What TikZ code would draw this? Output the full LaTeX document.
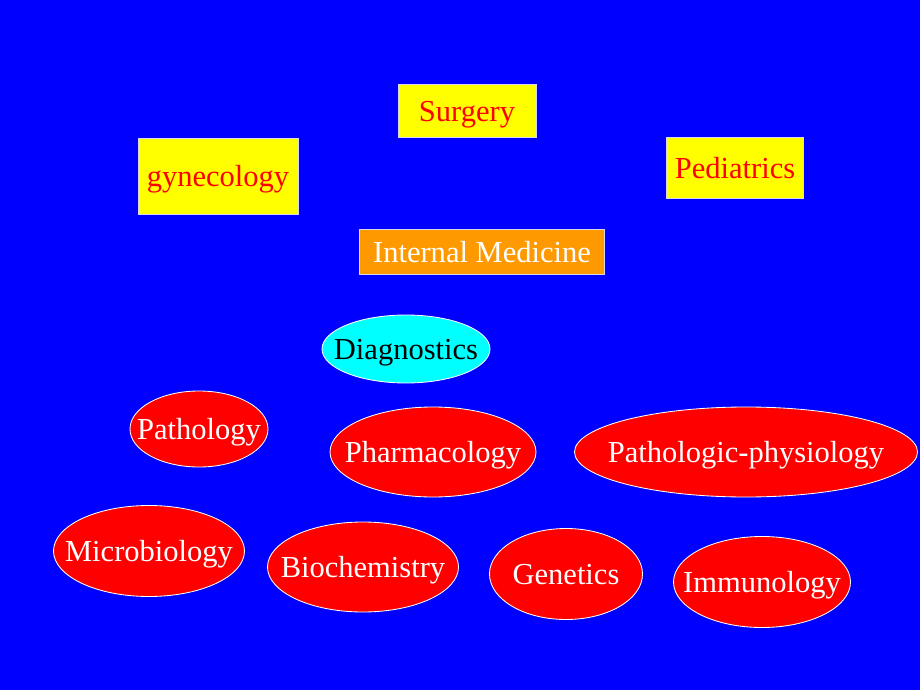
\documentclass[tikz,border=0pt]{standalone}
\usepackage{fontspec}
\setmainfont{Liberation Serif}
\usetikzlibrary{shapes.geometric}

\definecolor{slideblue}{RGB}{0,0,255}
\definecolor{deptyellow}{RGB}{255,255,0}
\definecolor{deptorange}{RGB}{255,153,0}
\definecolor{subjred}{RGB}{255,0,0}
\definecolor{subjcyan}{RGB}{0,255,255}
\definecolor{rim}{RGB}{215,215,230}

\newcommand{\px}{0.025cm}
\newcommand{\slidefont}{\fontsize{21.7}{26}\selectfont}
% label that does not push the oval wider than asked
\newcommand{\ovallabel}[1]{\makebox[0pt]{#1}}

\tikzset{
    dept/.style={rectangle, draw=rim, line width=0.6pt, inner sep=0pt, font=\slidefont,
        text height=19.5pt, text depth=4.8pt},
    subject/.style={ellipse, draw=white, line width=0.6pt, inner sep=0pt,
        fill=subjred, text=white, font=\slidefont, text height=19.5pt, text depth=4.8pt}
}

\begin{document}
\begin{tikzpicture}[x=\px, y=-\px]

        % Slide background
        \useasboundingbox (0,0) rectangle (920,690);
        \fill[slideblue] (0,0) rectangle (920,690);

        % --- Clinical departments ---
        \node[dept, fill=deptyellow, text=subjred, minimum width=138*\px, minimum height=53*\px]
            (surgery) at (467,111) {Surgery};
        \node[dept, fill=deptyellow, text=subjred, minimum width=160*\px, minimum height=76*\px]
            (gynecology) at (218,176) {gynecology};
        \node[dept, fill=deptyellow, text=subjred, minimum width=137*\px, minimum height=61*\px]
            (pediatrics) at (735,168) {Pediatrics};
        \node[dept, fill=deptorange, text=white, minimum width=245*\px, minimum height=45*\px]
            (internal) at (482,252) {Internal Medicine};

        % --- Bridge ---
        \node[subject, fill=subjcyan, text=black, minimum width=168*\px, minimum height=68*\px]
            (diagnostics) at (406,349) {\ovallabel{Diagnostics}};

        % --- Basic sciences ---
        \node[subject, minimum width=138*\px, minimum height=76*\px]
            (pathology) at (199,429) {\ovallabel{Pathology}};
        \node[subject, minimum width=206*\px, minimum height=90*\px]
            (pharmacology) at (433,452) {\ovallabel{Pharmacology}};
        \node[subject, minimum width=343*\px, minimum height=90*\px]
            (pathophys) at (746,452) {\ovallabel{Pathologic-physiology}};
        \node[subject, minimum width=191*\px, minimum height=91*\px]
            (microbiology) at (149,551) {\ovallabel{Microbiology}};
        \node[subject, minimum width=191*\px, minimum height=90*\px]
            (biochemistry) at (363,567) {\ovallabel{Biochemistry}};
        \node[subject, minimum width=153*\px, minimum height=91*\px]
            (genetics) at (566,574) {\ovallabel{Genetics}};
        \node[subject, minimum width=177*\px, minimum height=91*\px]
            (immunology) at (762,582) {\ovallabel{Immunology}};

\end{tikzpicture}
\end{document}
